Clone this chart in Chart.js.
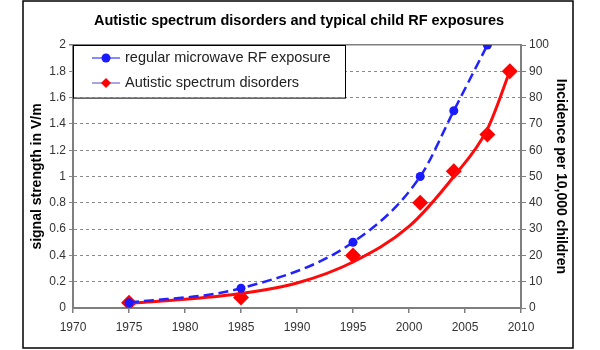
<!DOCTYPE html>
<html>
<head>
<meta charset="utf-8">
<script src="https://cdn.jsdelivr.net/npm/chart.js@4"></script>
<style>
  body { margin: 0; background: #fff; }
</style>
</head>
<body>
<canvas id="myChart" width="600" height="350"></canvas>
<script>
const titleText = 'Autistic spectrum disorders and typical child RF exposures'

// regular microwave RF exposure (V/m, left axis)
const rfYears = [1975, 1985, 1995, 2001, 2004, 2007]
const rfValues = [0.04, 0.15, 0.5, 1.0, 1.5, 2.0]

// autistic spectrum disorders (per 10,000, right axis)
const asdYears = [1975, 1985, 1995, 2001, 2004, 2007, 2009]
const asdValues = [2, 4, 20, 40, 52, 66, 90]

// red trend curve
const trendYears = [1975, 1980, 1985, 1990, 1995, 2000, 2004, 2007, 2009]
const trendValues = [1.8, 3.3, 5.5, 9.5, 17.5, 31, 50, 68, 90]

const legendLabels = ['regular microwave RF exposure', 'Autistic spectrum disorders']

const toPoints = (xs, ys) => xs.map((x, i) => ({x: x, y: ys[i]}))

const FONT = '"Liberation Sans", Arial, sans-serif'
const AXIS = '#7f7f7f'

// frame, title and the boxed legend (Excel style)
const decor = {
  id: 'decor',
  beforeDraw(chart) {
    const ctx = chart.ctx
    ctx.save()
    ctx.fillStyle = '#fff'
    ctx.fillRect(0, 0, chart.width, chart.height)
    ctx.strokeStyle = '#000'
    ctx.lineWidth = 1.5
    ctx.strokeRect(23, 1, 550, 347)
    ctx.fillStyle = '#000'
    ctx.font = 'bold 14.5px ' + FONT
    ctx.textAlign = 'center'
    ctx.textBaseline = 'middle'
    ctx.fillText(titleText, 299, 21)
    ctx.restore()
  },
  afterDraw(chart) {
    const ctx = chart.ctx
    const a = chart.chartArea
    const yScale = chart.scales.y
    const bottom = yScale.getPixelForValue(1.6)
    ctx.save()
    ctx.fillStyle = '#fff'
    ctx.fillRect(a.left, a.top, 272, bottom - a.top)
    ctx.strokeStyle = '#000'
    ctx.lineWidth = 1
    ctx.strokeRect(a.left + 0.5, a.top + 0.5, 272, bottom - a.top)
    const rows = [a.top + 13, a.top + 38]
    const lineCols = ['#3a3aff', '#6a6acc']
    rows.forEach((y, i) => {
      ctx.strokeStyle = lineCols[i]
      ctx.lineWidth = 1.2
      ctx.beginPath()
      ctx.moveTo(a.left + 19, y)
      ctx.lineTo(a.left + 47, y)
      ctx.stroke()
      const cx = a.left + 33
      if (i === 0) {
        ctx.fillStyle = '#1a1aff'
        ctx.beginPath()
        ctx.arc(cx, y, 4.5, 0, Math.PI * 2)
        ctx.fill()
      } else {
        ctx.fillStyle = '#ff0000'
        ctx.beginPath()
        ctx.moveTo(cx, y - 5)
        ctx.lineTo(cx + 5, y)
        ctx.lineTo(cx, y + 5)
        ctx.lineTo(cx - 5, y)
        ctx.closePath()
        ctx.fill()
      }
      ctx.fillStyle = '#222'
      ctx.font = '14.5px ' + FONT
      ctx.textAlign = 'left'
      ctx.textBaseline = 'middle'
      ctx.fillText(legendLabels[i], a.left + 52, y)
    })
    ctx.restore()
  }
}

const chartEle = document.getElementById('myChart')
const chart = new Chart(chartEle, {
  type: 'line',
  data: {
    datasets: [
      {
        label: legendLabels[0],
        data: toPoints(rfYears, rfValues),
        yAxisID: 'y',
        borderColor: '#2222ff',
        backgroundColor: '#1a1aff',
        borderWidth: 2.5,
        borderDash: [10, 5],
        cubicInterpolationMode: 'monotone',
        pointRadius: 4.5,
        pointBorderWidth: 0,
      },
      {
        label: 'trend',
        data: toPoints(trendYears, trendValues),
        yAxisID: 'y2',
        borderColor: '#ff0a0a',
        borderWidth: 3,
        cubicInterpolationMode: 'monotone',
        pointRadius: 0,
      },
      {
        label: legendLabels[1],
        data: toPoints(asdYears, asdValues),
        yAxisID: 'y2',
        showLine: false,
        backgroundColor: '#ff0000',
        borderColor: '#ff0000',
        pointStyle: 'rectRot',
        pointRadius: 8,
        pointBorderWidth: 0,
      },
    ]
  },
  options: {
    responsive: false,
    animation: false,
    layout: {padding: {top: 45, left: 0, right: 0, bottom: 0}},
    plugins: {
      legend: {display: false},
      tooltip: {enabled: false},
    },
    scales: {
      x: {
        type: 'linear',
        min: 1970, max: 2010,
        afterFit: s => { s.height = 42 },
        ticks: {stepSize: 5, color: '#333', font: {family: FONT, size: 12}, padding: 7,
          callback: v => String(v)},
        grid: {drawOnChartArea: false, color: AXIS, tickLength: 5, lineWidth: 1.5},
        border: {color: AXIS, width: 2},
      },
      y: {
        position: 'left',
        min: 0, max: 2,
        afterFit: s => { s.width = 73 },
        ticks: {stepSize: 0.2, color: '#333', font: {family: FONT, size: 12}, padding: 3,
          callback: v => String(Math.round(v * 10) / 10)},
        grid: {
          color: c => c.tick.value === 0 ? 'rgba(0,0,0,0)' : (c.tick.value === 2 ? AXIS : '#8a8a8a'),
          lineWidth: c => c.tick.value === 2 ? 1.5 : 1,
          tickLength: 4,
        },
        border: {color: AXIS, width: 2, dash: c => c.tick && c.tick.value === 2 ? [] : [3, 3]},
        title: {display: true, text: 'signal strength in V/m', color: '#000',
          font: {family: FONT, size: 14, weight: 'bold'}, padding: {top: 29, bottom: 0}},
      },
      y2: {
        position: 'right',
        min: 0, max: 100,
        afterFit: s => { s.width = 79 },
        ticks: {stepSize: 10, color: '#333', font: {family: FONT, size: 12}, padding: 3},
        grid: {drawOnChartArea: false, color: AXIS, tickLength: 5},
        border: {color: AXIS, width: 2},
        title: {display: true, text: 'Incidence per 10,000 children', color: '#000',
          font: {family: FONT, size: 14, weight: 'bold'}, padding: {top: 31, bottom: 0}},
      },
    }
  },
  plugins: [decor]
})
</script>
</body>
</html>
